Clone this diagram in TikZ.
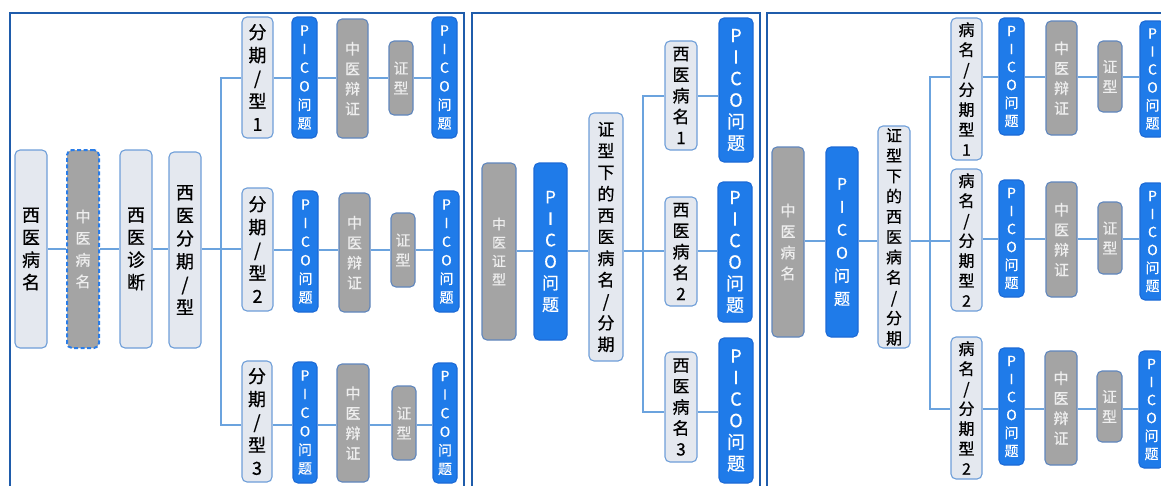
\documentclass[tikz,border=0pt]{standalone}
\usepackage{fontspec}
\newfontfamily\cjk{Noto Sans CJK SC}[FakeBold=0.6]
\usetikzlibrary{backgrounds}
\definecolor{frameblue}{HTML}{1F5CAB}
\definecolor{ltfill}{HTML}{E4E8EF}
\definecolor{ltdraw}{HTML}{6E9ED8}
\definecolor{grfill}{HTML}{A4A4A4}
\definecolor{grdraw}{HTML}{5F86BD}
\definecolor{grtext}{HTML}{EEEEEE}
\definecolor{blfill}{HTML}{1F7BE9}
\definecolor{bldraw}{HTML}{1C6AD6}
\definecolor{connc}{HTML}{6BA3DE}
\definecolor{dashblue}{HTML}{2A7DE8}
\tikzset{
 box/.style={rounded corners=5pt, line width=1.1pt, inner sep=0pt, align=center, anchor=center},
 lt/.style={box, fill=ltfill, draw=ltdraw, text=black},
 gr/.style={box, fill=grfill, draw=grdraw, text=grtext},
 bl/.style={box, fill=blfill, draw=bldraw, text=white},
 grdash/.style={gr, draw=dashblue, dashed, dash pattern=on 4pt off 2.5pt, line width=2pt},
 sz/.style 2 args={font=\cjk\fontsize{#1}{#2}\selectfont},
 wh/.style 2 args={minimum width=#1pt, minimum height=#2pt},
 connline/.style={draw=connc, line width=1.2pt},
 panel/.style={draw=frameblue, line width=2.5pt},
}
\newcommand\pico{P\\I\\C\\O\\问\\题}
\newcommand\seg[3]{\draw[connline] (#2.east |- #1) -- (#3.west |- #1);}
\begin{document}
\begin{tikzpicture}[x=1pt,y=-1pt]
\useasboundingbox (0,0) rectangle (1161,485);
\clip (0,0) rectangle (1161,485);
% panels
\draw[panel] (10,13) rectangle (464,500);
\draw[panel] (472,13) rectangle (760,500);
\draw[panel] (767,13) rectangle (1200,500);

% ---------- panel 1 ----------
\node[lt, sz={18}{22.5}, wh={32}{198}] (a1) at (31,249) {西\\医\\病\\名};
\node[grdash, sz={15}{21.7}, wh={32}{198}] (a2) at (83,249) {中\\医\\病\\名};
\node[lt, sz={18}{22.5}, wh={32}{198}] (a3) at (136,249) {西\\医\\诊\\断};
\node[lt, sz={18}{23}, wh={32}{196}] (a4) at (185,250) {西\\医\\分\\期\\/\\型};

\node[lt, sz={18}{23}, wh={31}{121}] (b1) at (257.5,77.5) {分\\期\\/\\型\\1};
\node[bl, sz={14}{18.6}, wh={25}{121}] (c1) at (304.5,77.5) {\pico};
\node[gr, sz={15}{20}, wh={31}{119}] (d1) at (352.5,78.5) {中\\医\\辩\\证};
\node[gr, sz={15}{20}, wh={24}{74}] (e1) at (401,78) {证\\型};
\node[bl, sz={14}{18.6}, wh={25}{121}] (f1) at (444.5,77.5) {\pico};

\node[lt, sz={18}{23}, wh={31}{123}] (b2) at (257.5,249.5) {分\\期\\/\\型\\2};
\node[bl, sz={14}{18.6}, wh={25}{121}] (c2) at (305.5,251.5) {\pico};
\node[gr, sz={15}{20}, wh={31}{119}] (d2) at (354.5,252.5) {中\\医\\辩\\证};
\node[gr, sz={15}{20}, wh={24}{74}] (e2) at (403,250) {证\\型};
\node[bl, sz={14}{18.6}, wh={25}{121}] (f2) at (446.5,251.5) {\pico};

\node[lt, sz={18}{23}, wh={30}{121}] (b3) at (257,421.5) {分\\期\\/\\型\\3};
\node[bl, sz={14}{18.6}, wh={24}{121}] (c3) at (305,422.5) {\pico};
\node[gr, sz={15}{20}, wh={32}{118}] (d3) at (353,423) {中\\医\\辩\\证};
\node[gr, sz={15}{20}, wh={24}{74}] (e3) at (404,423) {证\\型};
\node[bl, sz={14}{18.6}, wh={24}{120}] (f3) at (445,423) {\pico};

% ---------- panel 2 ----------
\node[gr, sz={14}{18.5}, wh={34}{177}] (g1) at (499,251.5) {中\\医\\证\\型};
\node[bl, sz={17}{21.5}, wh={33}{177}] (g2) at (550.5,251.5) {\pico};
\node[lt, sz={17}{21.5}, wh={34}{248}] (g3) at (606,237) {证\\型\\下\\的\\西\\医\\病\\名\\/\\分\\期};
\node[lt, sz={17}{21}, wh={32}{109}] (h1) at (681,95.5) {西\\医\\病\\名\\1};
\node[bl, sz={18}{21.5}, wh={34}{144}] (i1) at (736,90) {\pico};
\node[lt, sz={17}{21}, wh={32}{109}] (h2) at (681,251.5) {西\\医\\病\\名\\2};
\node[bl, sz={18}{21.5}, wh={34}{140}] (i2) at (735,252) {\pico};
\node[lt, sz={17}{21}, wh={32}{110}] (h3) at (681,407) {西\\医\\病\\名\\3};
\node[bl, sz={18}{21.5}, wh={34}{145}] (i3) at (736,410.5) {\pico};

% ---------- panel 3 ----------
\node[gr, sz={15}{21}, wh={32}{190}] (j1) at (788,242) {中\\医\\病\\名};
\node[bl, sz={16}{23}, wh={32}{190}] (j2) at (842,242) {\pico};
\node[lt, sz={16}{20.3}, wh={32}{222}] (j3) at (894,237) {证\\型\\下\\的\\西\\医\\病\\名\\/\\分\\期};

\node[lt, sz={16}{20}, wh={31}{142}] (k1) at (966.5,89) {病\\名\\/\\分\\期\\型\\1};
\node[bl, sz={14}{18}, wh={25}{117}] (l1) at (1011.5,76.5) {\pico};
\node[gr, sz={15}{20}, wh={31}{114}] (m1) at (1061.5,78) {中\\医\\辩\\证};
\node[gr, sz={15}{20}, wh={24}{71}] (n1) at (1110,76.5) {证\\型};
\node[bl, sz={14}{18}, wh={25}{116}] (o1) at (1152.5,79) {\pico};

\node[lt, sz={16}{20}, wh={31}{142}] (k2) at (966.5,240) {病\\名\\/\\分\\期\\型\\2};
\node[bl, sz={14}{18}, wh={25}{117}] (l2) at (1011.5,238.5) {\pico};
\node[gr, sz={15}{20}, wh={31}{115}] (m2) at (1061.5,239.5) {中\\医\\辩\\证};
\node[gr, sz={15}{20}, wh={24}{72}] (n2) at (1110,238) {证\\型};
\node[bl, sz={14}{18}, wh={25}{117}] (o2) at (1152.5,241.5) {\pico};

\node[lt, sz={16}{20}, wh={31}{142}] (k3) at (966.5,408) {病\\名\\/\\分\\期\\型\\2};
\node[bl, sz={14}{18}, wh={25}{117}] (l3) at (1011.5,406.5) {\pico};
\node[gr, sz={15}{20}, wh={32}{114}] (m3) at (1061,408) {中\\医\\辩\\证};
\node[gr, sz={15}{20}, wh={25}{71}] (n3) at (1109.5,406.5) {证\\型};
\node[bl, sz={14}{18}, wh={25}{117}] (o3) at (1151.5,409.5) {\pico};

% ---------- connectors ----------
\begin{scope}[on background layer]
% panel 1
\coordinate (P1) at (0,249);
\coordinate (P1R1) at (0,78);
\coordinate (P1R2) at (0,250);
\coordinate (P1R3) at (0,425);
\coordinate (br1) at (221,249);
\seg{P1}{a1}{a2}\seg{P1}{a2}{a3}\seg{P1}{a3}{a4}
\draw[connline] (a4.east |- P1) -- (br1);
\draw[connline] (b1.west |- P1R1) -| (br1) |- (b3.west |- P1R3);
\draw[connline] (br1) -- (b2.west |- br1);
\seg{P1R1}{b1}{c1}\seg{P1R1}{c1}{d1}\seg{P1R1}{d1}{e1}\seg{P1R1}{e1}{f1}
\seg{P1R2}{b2}{c2}\seg{P1R2}{c2}{d2}\seg{P1R2}{d2}{e2}\seg{P1R2}{e2}{f2}
\seg{P1R3}{b3}{c3}\seg{P1R3}{c3}{d3}\seg{P1R3}{d3}{e3}\seg{P1R3}{e3}{f3}
% panel 2
\coordinate (P2) at (0,251);
\coordinate (P2R1) at (0,96);
\coordinate (P2R3) at (0,412);
\coordinate (br2) at (643,251);
\seg{P2}{g1}{g2}\seg{P2}{g2}{g3}
\draw[connline] (g3.east |- P2) -- (br2);
\draw[connline] (h1.west |- P2R1) -| (br2) |- (h3.west |- P2R3);
\seg{P2}{g3}{h2}
\seg{P2R1}{h1}{i1}\seg{P2}{h2}{i2}\seg{P2R3}{h3}{i3}
% panel 3
\coordinate (P3) at (0,241);
\coordinate (P3R1) at (0,77);
\coordinate (P3R2) at (0,239);
\coordinate (P3R3) at (0,409);
\coordinate (br3) at (930,241);
\seg{P3}{j1}{j2}\seg{P3}{j2}{j3}
\draw[connline] (j3.east |- P3) -- (br3);
\draw[connline] (k1.west |- P3R1) -| (br3) |- (k3.west |- P3R3);
\draw[connline] (br3) -- (k2.west |- br3);
\seg{P3R1}{k1}{l1}\seg{P3R1}{l1}{m1}\seg{P3R1}{m1}{n1}\seg{P3R1}{n1}{o1}
\seg{P3R2}{k2}{l2}\seg{P3R2}{l2}{m2}\seg{P3R2}{m2}{n2}\seg{P3R2}{n2}{o2}
\seg{P3R3}{k3}{l3}\seg{P3R3}{l3}{m3}\seg{P3R3}{m3}{n3}\seg{P3R3}{n3}{o3}
\end{scope}
\end{tikzpicture}
\end{document}
